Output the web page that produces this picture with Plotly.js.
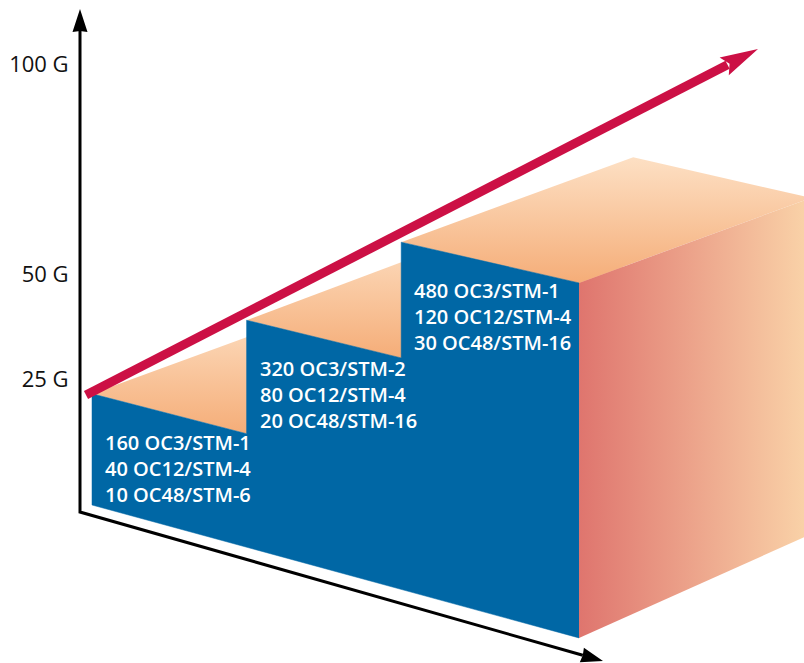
<!DOCTYPE html>
<html>
<head>
<meta charset="utf-8">
<script src="https://cdn.plot.ly/plotly-3.0.1.min.js"></script>
<style>html,body{margin:0;padding:0;background:#fff;}#chart{width:804px;height:663px;}</style>
</head>
<body>
<div id="chart"></div>
<script>
// ---------------- DATA ----------------
const yTickValues = [25, 50, 100];            // capacity, Gbit/s
const yTickLabels = ['25 G', '50 G', '100 G'];
const stageCapacityG = [25, 50, 75];          // capacity of each step
const stagePeriods = [1, 1, 1.15];            // span of each step along the time axis
const oc3Labels  = ['160 OC3/STM-1', '320 OC3/STM-2', '480 OC3/STM-1'];
const oc12Labels = ['40 OC12/STM-4', '80 OC12/STM-4', '120 OC12/STM-4'];
const oc48Labels = ['10 OC48/STM-6', '20 OC48/STM-16', '30 OC48/STM-16'];

// ---------------- GEOMETRY / STYLE ----------------
const W = 804, H = 663;
const PROJ = {x0: 92, y0: 505, ux: 154.6, uy: 42.2, hy0: 4.45, hyU: 0.09, dx: 232, dyTop: -85, dyPersp: -0.25};
const TICK_AXIS = {pxPerG: 4.1964, zeroPx: 483.85, posPx: 80};
const FRAME = {axisX: 80, axisTop: 9, corner: 512, xTip: [603, 661], trendStart: [86, 395], trendTip: [758, 49]};
const COL = {blue: '#0067A5', red: '#CC1045', topLight: '#FDE0C4', topDark: '#F5AD78',
             sideLeft: '#DF756E', sideRight: '#FAD4A9', axis: '#000000'};

const cum = [0];
stagePeriods.forEach(p => cum.push(cum[cum.length - 1] + p));
const uMax = cum[cum.length - 1];
const hMax = Math.max(...stageCapacityG);

function P(u, h, d) {
  const hy = PROJ.hy0 + PROJ.hyU * u;
  const dy = PROJ.dyTop + PROJ.dyPersp * (hMax - h) * (u / uMax);
  return [PROJ.x0 + PROJ.ux * u + PROJ.dx * d, PROJ.y0 + PROJ.uy * u - hy * h + dy * d];
}
function poly(pts) {
  const c = pts.concat([pts[0]]);
  return {x: c.map(p => p[0]), y: c.map(p => p[1])};
}
function base(extra) {
  return Object.assign({type: 'scatter', mode: 'none', fill: 'toself', hoverinfo: 'skip', showlegend: false}, extra);
}
function arrowHead(from, tip, len, half, notch) {
  const dxv = tip[0] - from[0], dyv = tip[1] - from[1];
  const L = Math.hypot(dxv, dyv); const ux = dxv / L, uy = dyv / L; const px = -uy, py = ux;
  const b = [tip[0] - len * ux, tip[1] - len * uy];
  const n = [tip[0] - (len - notch) * ux, tip[1] - (len - notch) * uy];
  return {pts: [tip, [b[0] + half * px, b[1] + half * py], n, [b[0] - half * px, b[1] - half * py]], neck: n};
}

const traces = [];

// top faces
stageCapacityG.forEach((h, k) => {
  const pts = [P(cum[k], h, 0), P(cum[k + 1], h, 0), P(cum[k + 1], h, 1), P(cum[k], h, 1)];
  const pl = poly(pts);
  traces.push(base({x: pl.x, y: pl.y, fillcolor: COL.topDark,
    fillgradient: {type: 'vertical', start: P(cum[k], h, 1)[1], stop: P(cum[k + 1], h, 0)[1],
      colorscale: [[0, COL.topLight], [1, COL.topDark]]}}));
});

// front face (staircase outline)
const front = [P(0, 0, 0)];
stageCapacityG.forEach((h, k) => { front.push(P(cum[k], h, 0)); front.push(P(cum[k + 1], h, 0)); });
front.push(P(uMax, 0, 0));
const fpl = poly(front);
traces.push(base({x: fpl.x, y: fpl.y, fillcolor: COL.blue, mode: 'lines', line: {color: COL.blue, width: 0.5}}));

// side face
const side = [P(uMax, hMax, 0), P(uMax, hMax, 1), P(uMax, 0, 1), P(uMax, 0, 0)];
const spl = poly(side);
traces.push(base({x: spl.x, y: spl.y, fillcolor: COL.sideLeft,
  fillgradient: {type: 'horizontal', start: side[0][0], stop: side[1][0],
    colorscale: [[0, COL.sideLeft], [1, COL.sideRight]]}}));

// axes arrows
const corner = [FRAME.axisX, FRAME.corner];
const vHead = arrowHead(corner, [FRAME.axisX, FRAME.axisTop], 23, 7.5, 1);
const hHead = arrowHead(corner, FRAME.xTip, 22, 7.5, 1);
traces.push({type: 'scatter', mode: 'lines', x: [vHead.neck[0], corner[0], hHead.neck[0]],
  y: [vHead.neck[1], corner[1], hHead.neck[1]], line: {color: COL.axis, width: 3}, hoverinfo: 'skip', showlegend: false});
[vHead, hHead].forEach(hd => { const pl = poly(hd.pts); traces.push(base({x: pl.x, y: pl.y, fillcolor: COL.axis})); });

// trend arrow
const tHead = arrowHead(FRAME.trendStart, FRAME.trendTip, 38, 10, 6);
traces.push({type: 'scatter', mode: 'lines', x: [FRAME.trendStart[0], tHead.neck[0] - 2], y: [FRAME.trendStart[1], tHead.neck[1] + 1],
  line: {color: COL.red, width: 9}, hoverinfo: 'skip', showlegend: false});
const tpl = poly(tHead.pts);
traces.push(base({x: tpl.x, y: tpl.y, fillcolor: COL.red}));

// dummy trace to carry the capacity axis
traces.push({type: 'scatter', mode: 'markers', x: yTickValues.map(() => null), y: yTickValues, yaxis: 'y2',
  marker: {opacity: 0}, hoverinfo: 'skip', showlegend: false});

// step labels (one multi-line text block per step)
const annotations = [];
stageCapacityG.forEach((h, k) => {
  const c = P(cum[k], h, 0);
  annotations.push({x: c[0] + 12, y: c[1] + 51 + 23.6, xref: 'x', yref: 'y',
    text: [oc3Labels[k], oc12Labels[k], oc48Labels[k]].join('<br>'), showarrow: false,
    xanchor: 'left', yanchor: 'middle', align: 'left', borderpad: 0,
    font: {family: 'Open Sans, sans-serif', size: 20, weight: 600, color: '#ffffff'}});
});

const gBottom = (TICK_AXIS.zeroPx - H) / TICK_AXIS.pxPerG;
const gTop = TICK_AXIS.zeroPx / TICK_AXIS.pxPerG;

const layout = {
  width: W, height: H, margin: {l: 0, r: 0, t: 0, b: 0}, paper_bgcolor: '#ffffff', plot_bgcolor: '#ffffff',
  showlegend: false, hovermode: false,
  xaxis: {range: [0, W], visible: false, fixedrange: true},
  yaxis: {range: [H, 0], visible: false, fixedrange: true},
  yaxis2: {overlaying: 'y', anchor: 'free', position: TICK_AXIS.posPx / W, side: 'left', range: [gBottom, gTop],
    tickvals: yTickValues, ticktext: yTickLabels, showgrid: false, zeroline: false, showline: false,
    ticks: 'outside', ticklen: 7, tickcolor: 'rgba(0,0,0,0)', fixedrange: true,
    tickfont: {family: 'Open Sans, sans-serif', size: 22, color: '#111111'}},
  annotations: annotations
};

Plotly.newPlot('chart', traces, layout, {displayModeBar: false, staticPlot: true});
</script>
</body>
</html>
